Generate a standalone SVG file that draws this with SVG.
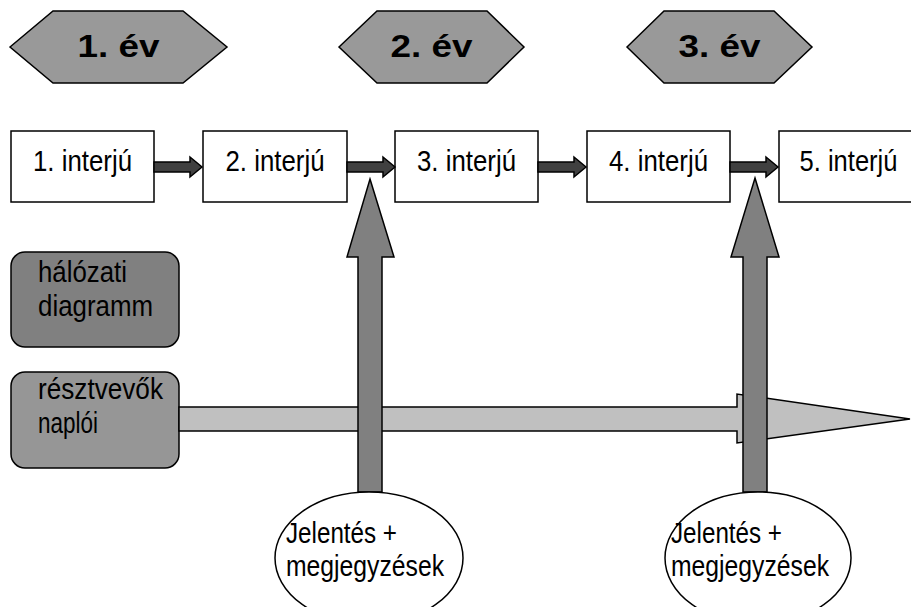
<svg xmlns="http://www.w3.org/2000/svg" width="911" height="607" viewBox="0 0 911 607">
<style>
.hex{fill:#999999;stroke:#000;stroke-width:1.5;stroke-linejoin:miter}
.ht{font-family:"Liberation Sans",Arial,sans-serif;font-weight:900;font-size:32px;fill:#000;text-anchor:middle}
.box{fill:#fff;stroke:#000;stroke-width:1.5}
.t{font-family:"Liberation Sans",Arial,sans-serif;font-size:30px;fill:#000}
.tm{text-anchor:middle}
.dark{fill:#404040;stroke:#000;stroke-width:1.5;stroke-linejoin:miter}
.vert{fill:#808080;stroke:#000;stroke-width:1.5;stroke-linejoin:miter}
.horiz{fill:#c0c0c0;stroke:#000;stroke-width:1.5;stroke-linejoin:miter}
.ell{fill:#fff;stroke:#000;stroke-width:1.5}
</style>

<g id="ev1">
<polygon class="hex" points="10,47 53,11 183,11 227,47 183,83 53,83"/>
<text class="ht" x="118.5" y="57" textLength="82" lengthAdjust="spacingAndGlyphs">1. év</text>
</g>
<g id="ev2">
<polygon class="hex" points="339,47 377,11 487,11 524,47 487,83 377,83"/>
<text class="ht" x="431.5" y="57" textLength="82" lengthAdjust="spacingAndGlyphs">2. év</text>
</g>
<g id="ev3">
<polygon class="hex" points="627,47 664,11 774,11 812,47 774,83 664,83"/>
<text class="ht" x="719.5" y="57" textLength="82" lengthAdjust="spacingAndGlyphs">3. év</text>
</g>

<g id="interju1">
<rect class="box" x="11" y="131" width="143" height="71"/>
<text class="t tm" x="82.5" y="171" textLength="99" lengthAdjust="spacingAndGlyphs">1. interjú</text>
</g>
<g id="interju2">
<rect class="box" x="203" y="131" width="144" height="71"/>
<text class="t tm" x="275" y="171" textLength="99" lengthAdjust="spacingAndGlyphs">2. interjú</text>
</g>
<g id="interju3">
<rect class="box" x="395" y="131" width="143" height="71"/>
<text class="t tm" x="466.5" y="171" textLength="99" lengthAdjust="spacingAndGlyphs">3. interjú</text>
</g>
<g id="interju4">
<rect class="box" x="587" y="131" width="143" height="71"/>
<text class="t tm" x="658.5" y="171" textLength="99" lengthAdjust="spacingAndGlyphs">4. interjú</text>
</g>
<g id="interju5">
<rect class="box" x="779" y="131" width="143" height="71"/>
<text class="t tm" x="848.5" y="171" textLength="98" lengthAdjust="spacingAndGlyphs">5. interjú</text>
</g>

<g id="halozati">
<rect x="11" y="252" width="168" height="95" rx="14" ry="14" fill="#808080" stroke="#000" stroke-width="1.5"/>
<text class="t" x="38" y="282" textLength="89" lengthAdjust="spacingAndGlyphs">hálózati</text>
<text class="t" x="38" y="316" textLength="115" lengthAdjust="spacingAndGlyphs">diagramm</text>
</g>

<g id="resztvevok">
<rect x="11" y="372" width="168" height="96" rx="14" ry="14" fill="#969696" stroke="#000" stroke-width="1.5"/>
<text class="t" x="38" y="399" textLength="125" lengthAdjust="spacingAndGlyphs">résztvevők</text>
<text class="t" x="38" y="433" textLength="60" lengthAdjust="spacingAndGlyphs">naplói</text>
</g>

<g id="connectors">
<polygon class="dark" points="154,162 190,162 190,157 202,167 190,177 190,172 154,172"/>
<polygon class="dark" points="347,162 383,162 383,157 395,167 383,177 383,172 347,172"/>
<polygon class="dark" points="538,162 574,162 574,157 586,167 574,177 574,172 538,172"/>
<polygon class="dark" points="730,162 766,162 766,157 778,167 766,177 766,172 730,172"/>
<polygon class="horiz" points="179,407 737,407 737,394 910,419 737,443 737,431 179,431"/>
<polygon class="vert" points="370,179 394,257 382,257 382,492 358,492 358,257 347,257"/>
<polygon class="vert" points="755,178 779,257 767,257 767,492 743,492 743,257 731,257"/>
</g>

<g id="jelentes1">
<ellipse class="ell" cx="369" cy="558" rx="94" ry="66"/>
<text class="t" x="286" y="543" textLength="111" lengthAdjust="spacingAndGlyphs">Jelentés +</text>
<text class="t" x="286" y="576" textLength="158" lengthAdjust="spacingAndGlyphs">megjegyzések</text>
</g>
<g id="jelentes2">
<ellipse class="ell" cx="758" cy="558" rx="93" ry="66"/>
<text class="t" x="671" y="543" textLength="111" lengthAdjust="spacingAndGlyphs">Jelentés +</text>
<text class="t" x="671" y="576" textLength="158" lengthAdjust="spacingAndGlyphs">megjegyzések</text>
</g>
</svg>
